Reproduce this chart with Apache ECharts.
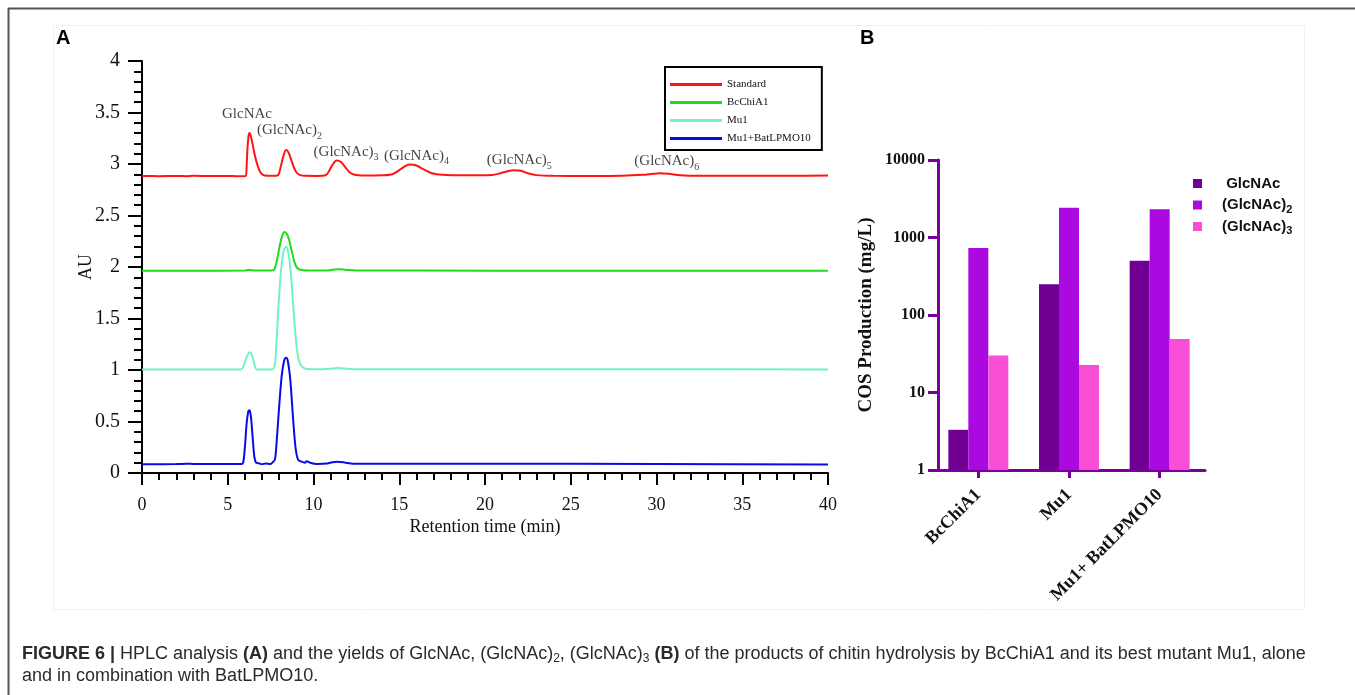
<!DOCTYPE html>
<html><head><meta charset="utf-8">
<script src="https://cdn.jsdelivr.net/npm/echarts@6/dist/echarts.min.js"></script>
<style>html,body{margin:0;padding:0;background:#fff}#c{width:1355px;height:695px}</style>
</head><body><div id="c"></div>
<script>
// ---------- Panel A data: HPLC traces [time (min), AU] ----------
const standardTrace = [[0,2.883],[1,2.882],[2,2.884],[2.6,2.882],[3,2.885],[4,2.883],[5,2.884],[5.5,2.882],[6.05,2.883],[6.1,2.98],[6.15,3.15],[6.22,3.28],[6.27,3.30],[6.35,3.27],[6.45,3.19],[6.6,3.07],[6.75,2.98],[6.9,2.92],[7.05,2.895],[7.3,2.886],[7.7,2.885],[7.95,2.895],[8.1,2.98],[8.25,3.08],[8.4,3.135],[8.55,3.11],[8.7,3.04],[8.85,2.97],[9.0,2.92],[9.2,2.895],[9.5,2.885],[10.2,2.884],[10.7,2.89],[10.9,2.93],[11.1,2.99],[11.35,3.035],[11.6,3.02],[11.85,2.97],[12.1,2.92],[12.4,2.895],[13,2.888],[14,2.89],[14.6,2.9],[15.0,2.94],[15.4,2.985],[15.65,2.995],[16.0,2.985],[16.4,2.95],[16.9,2.91],[17.5,2.895],[19,2.89],[20.4,2.893],[20.9,2.91],[21.3,2.93],[21.7,2.94],[22.1,2.935],[22.5,2.91],[23,2.892],[24,2.885],[26,2.884],[28,2.886],[29.2,2.895],[29.8,2.905],[30.2,2.91],[30.7,2.905],[31.4,2.89],[32.5,2.885],[35,2.885],[38,2.886],[40,2.888]];
const bcchia1Trace = [[0,1.964],[3,1.964],[6,1.965],[6.2,1.972],[6.35,1.972],[6.5,1.965],[7.5,1.965],[7.7,1.975],[7.85,2.05],[8.0,2.18],[8.15,2.29],[8.3,2.34],[8.45,2.32],[8.6,2.25],[8.75,2.14],[8.9,2.04],[9.05,1.99],[9.3,1.97],[9.7,1.965],[10.8,1.966],[11.2,1.975],[11.5,1.978],[11.9,1.972],[12.5,1.966],[16,1.965],[25,1.964],[40,1.964]];
const mu1Trace = [[0,1.005],[3,1.005],[5.75,1.006],[5.9,1.03],[6.05,1.1],[6.2,1.16],[6.3,1.172],[6.4,1.15],[6.5,1.09],[6.62,1.02],[6.7,1.006],[7.5,1.006],[7.72,1.03],[7.82,1.2],[7.95,1.6],[8.1,1.95],[8.25,2.15],[8.4,2.2],[8.55,2.12],[8.7,1.9],[8.85,1.55],[9.0,1.25],[9.15,1.09],[9.35,1.03],[9.6,1.01],[10.5,1.008],[11,1.012],[11.4,1.02],[11.8,1.015],[12.5,1.008],[20,1.007],[30,1.007],[40,1.006]];
const mu1LpmoTrace = [[0,0.085],[2,0.087],[2.6,0.09],[3,0.088],[5.8,0.088],[5.9,0.1],[6.0,0.25],[6.1,0.48],[6.2,0.6],[6.27,0.61],[6.35,0.55],[6.45,0.35],[6.55,0.16],[6.65,0.1],[6.8,0.095],[7.0,0.085],[7.2,0.092],[7.5,0.088],[7.6,0.1],[7.75,0.13],[7.85,0.3],[8.0,0.65],[8.15,0.95],[8.3,1.1],[8.4,1.12],[8.5,1.09],[8.65,0.9],[8.8,0.55],[8.95,0.25],[9.1,0.13],[9.3,0.11],[9.5,0.1],[9.6,0.115],[9.8,0.1],[10.2,0.088],[10.8,0.092],[11.1,0.105],[11.4,0.11],[11.8,0.103],[12.3,0.09],[15,0.09],[20,0.09],[30,0.087],[40,0.082]];
const traceNames = ['Standard','BcChiA1','Mu1','Mu1+BatLPMO10'];
// peak annotations [time, AU, text, subscript]
const peakLabels = [[6.12,3.48,'GlcNAc',''],[8.6,3.33,'(GlcNAc)','2'],[11.9,3.12,'(GlcNAc)','3'],[16.0,3.08,'(GlcNAc)','4'],[22.0,3.04,'(GlcNAc)','5'],[30.6,3.03,'(GlcNAc)','6']];

// ---------- Panel B data: yields (mg/L) ----------
const samples = ['BcChiA1','Mu1','Mu1+ BatLPMO10'];
const glcnac = [3.3, 250, 500];
const glcnac2 = [730, 2420, 2310];
const glcnac3 = [30, 22.6, 49];
const productNames = ['GlcNAc','(GlcNAc)2','(GlcNAc)3'];

const serif = 'Liberation Serif';
const sans = 'Liberation Sans';
const purpleAxis = '#7a0099';

const chart = echarts.init(document.getElementById('c'), null, {renderer:'canvas'});

const subRich = {
  m:{fontFamily:serif,fontSize:15,color:'#111',lineHeight:22},
  s:{fontFamily:serif,fontSize:10,color:'#111',lineHeight:10,verticalAlign:'bottom'}
};
const legRich = {
  m:{fontFamily:sans,fontSize:15,fontWeight:'bold',color:'#111',lineHeight:20},
  s:{fontFamily:sans,fontSize:11,fontWeight:'bold',color:'#111',lineHeight:10,verticalAlign:'bottom'}
};

function traceSeries(name, data, color){
  return {type:'line', name, data, xAxisIndex:0, yAxisIndex:0, symbol:'none', smooth:0.3,
    lineStyle:{color, width:2}, itemStyle:{color}, silent:true, z:3};
}

const option = {
  animation:false,
  textStyle:{fontFamily:serif},
  grid:[
    {left:142, top:61, width:686, height:412},
    {left:933, top:160, width:272, height:310}
  ],
  xAxis:[
    {type:'value', gridIndex:0, min:0, max:40, interval:5,
      axisLine:{show:true,lineStyle:{color:'#000',width:2}},
      axisTick:{show:true,length:12,lineStyle:{color:'#000',width:2}},
      minorTick:{show:true,splitNumber:5,length:7,lineStyle:{color:'#000',width:2}},
      splitLine:{show:false},
      axisLabel:{fontFamily:serif,fontSize:18,color:'#111',margin:23},
      name:'Retention time (min)', nameLocation:'middle', nameGap:45, nameMoveOverlap:false,
      nameTextStyle:{fontFamily:serif,fontSize:18,color:'#111'}},
    {type:'category', gridIndex:1, data:samples,
      axisLine:{show:true,lineStyle:{color:purpleAxis,width:3}},
      axisTick:{show:true,alignWithLabel:true,length:8,lineStyle:{color:purpleAxis,width:3}},
      axisLabel:{fontFamily:serif,fontSize:18,fontWeight:'bold',color:'#111',rotate:45,margin:22,interval:0}}
  ],
  yAxis:[
    {type:'value', gridIndex:0, min:0, max:4, interval:0.5,
      axisLine:{show:true,lineStyle:{color:'#000',width:2}},
      axisTick:{show:true,length:14,lineStyle:{color:'#000',width:2}},
      minorTick:{show:true,splitNumber:5,length:8,lineStyle:{color:'#000',width:2}},
      splitLine:{show:false},
      axisLabel:{fontFamily:serif,fontSize:20,color:'#111',margin:22},
      name:'AU', nameLocation:'middle', nameGap:47, nameMoveOverlap:false,
      nameTextStyle:{fontFamily:serif,fontSize:18,color:'#111'}},
    {type:'log', gridIndex:1, logBase:10, min:1, max:10000, offset:-5,
      axisLine:{show:true,lineStyle:{color:purpleAxis,width:3}},
      axisTick:{show:true,length:10,lineStyle:{color:purpleAxis,width:3}},
      splitLine:{show:false},
      axisLabel:{fontFamily:serif,fontSize:16,fontWeight:'bold',color:'#111',margin:13,
        formatter:v=>String(Math.round(v))},
      name:'COS Production (mg/L)', nameLocation:'middle', nameGap:62,
      nameTextStyle:{fontFamily:serif,fontSize:19,fontWeight:'bold',color:'#111'}}
  ],
  legend:[
    {data:traceNames, left:665, top:67, orient:'vertical', icon:'rect', itemWidth:52, itemHeight:3,
      itemGap:5, padding:[11,11,5,5], borderColor:'#000', borderWidth:2,
      textStyle:{fontFamily:serif,fontSize:11,color:'#111',lineHeight:13}},
    {data:productNames, left:1188, top:171, orient:'vertical', icon:'rect', itemWidth:9, itemHeight:9,
      itemGap:4,
      formatter:n=>{const m=n.match(/^(.*?)(\d)?$/); return n==='GlcNAc' ? '{m| GlcNAc}{s| }' : '{m|'+m[1]+'}{s|'+m[2]+'}';},
      textStyle:{padding:[0,0,0,15],rich:legRich}}
  ],
  series:[
    traceSeries(traceNames[0], standardTrace, '#ff1414'),
    traceSeries(traceNames[1], bcchia1Trace, '#1fdc1f'),
    traceSeries(traceNames[2], mu1Trace, '#70f2cc'),
    traceSeries(traceNames[3], mu1LpmoTrace, '#0a0ae8'),
    {type:'scatter', xAxisIndex:0, yAxisIndex:0, data:peakLabels, symbolSize:0, silent:true, z:5,
      label:{show:true, position:'inside', color:'#111',
        formatter:p=>p.data[3] ? '{m|'+p.data[2]+'}{s|'+p.data[3]+'}' : '{m|'+p.data[2]+'}',
        rich:subRich}},
    {type:'bar', name:productNames[0], data:glcnac, xAxisIndex:1, yAxisIndex:1, barWidth:20, barGap:'0%',
      itemStyle:{color:'#700094'}},
    {type:'bar', name:productNames[1], data:glcnac2, xAxisIndex:1, yAxisIndex:1, barWidth:20, barGap:'0%',
      itemStyle:{color:'#aa0ae0'}},
    {type:'bar', name:productNames[2], data:glcnac3, xAxisIndex:1, yAxisIndex:1, barWidth:20, barGap:'0%',
      itemStyle:{color:'#f84fd6'}}
  ],
  graphic:[
    {type:'line', shape:{x1:8,y1:8.5,x2:1355,y2:8.5}, style:{stroke:'#555',lineWidth:2}, silent:true},
    {type:'line', shape:{x1:8.5,y1:8,x2:8.5,y2:695}, style:{stroke:'#555',lineWidth:2}, silent:true},
    {type:'rect', shape:{x:53.5,y:25.5,width:1251,height:584}, style:{fill:null,stroke:'#f8eeee',lineWidth:1}, silent:true, z:-1},
    {type:'text', left:56, top:28, style:{text:'A', font:'bold 20px "Liberation Sans"', fill:'#000'}},
    {type:'text', left:860, top:28, style:{text:'B', font:'bold 20px "Liberation Sans"', fill:'#000'}},
    {type:'text', left:22, top:643, style:{
      text:'{b|FIGURE 6 |} HPLC analysis {b|(A)} and the yields of GlcNAc, (GlcNAc){s|2}, (GlcNAc){s|3} {b|(B)} of the products of chitin hydrolysis by BcChiA1 and its best mutant Mu1, alone\nand in combination with BatLPMO10.',
      font:'18px "Liberation Sans"', fill:'#2a2a2a', lineHeight:22,
      rich:{b:{font:'bold 18px "Liberation Sans"',fill:'#2a2a2a',lineHeight:22},
            s:{font:'12px "Liberation Sans"',fill:'#2a2a2a',lineHeight:14,verticalAlign:'bottom'}}}}
  ]
};
chart.setOption(option);
</script></body></html>
